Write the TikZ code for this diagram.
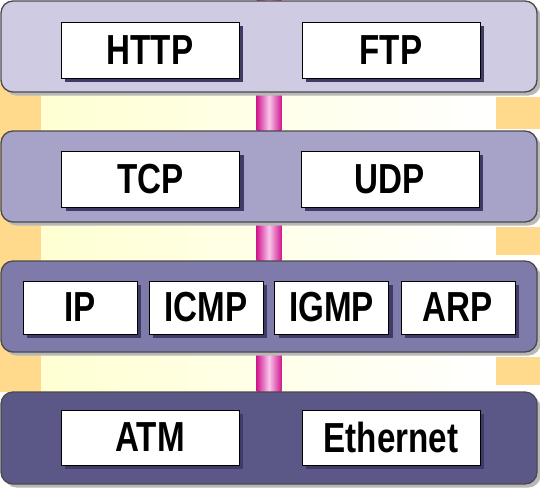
\documentclass[tikz,border=0pt]{standalone}
\usepackage{fontspec}
\newfontfamily\lblfont{Liberation Sans}[FakeStretch=0.79]
\usetikzlibrary{shadows,calc}
\pgfdeclarelayer{bands}
\pgfdeclarelayer{bars}
\pgfsetlayers{bands,bars,main}
\definecolor{layA}{HTML}{CFCBE3}
\definecolor{layB}{HTML}{A7A2C8}
\definecolor{layC}{HTML}{7E7AAA}
\definecolor{layD}{HTML}{5B5887}
\definecolor{laybord}{HTML}{4A4A4A}
\definecolor{layshadow}{HTML}{B8B8B8}
\definecolor{boxshadow}{HTML}{3F3A66}
\definecolor{gold}{HTML}{FFDA8C}
\definecolor{paleyellow}{HTML}{FFFFD2}
\definecolor{pinkdark}{HTML}{D2188E}
\definecolor{pinklight}{HTML}{F9C6EC}
\begin{document}
\begin{tikzpicture}[x=1pt,y=-1pt,
  layerbox/.style={draw=laybord, line width=1.3pt, rounded corners=12pt,
    minimum width=536pt, minimum height=91pt, inner sep=0pt,
    drop shadow={shadow xshift=3.5pt, shadow yshift=-3.5pt, fill=layshadow, opacity=1}},
  proto/.style={draw=black, line width=1pt, fill=white, minimum height=56pt,
    minimum width=178pt, inner sep=0pt,
    font=\lblfont\bfseries\fontsize{42}{42}\selectfont,
    drop shadow={shadow xshift=4pt, shadow yshift=-4pt, fill=boxshadow, opacity=1}},
  smallproto/.style={proto, minimum width=114pt, minimum height=53pt},
  pinkbar/.style={left color=pinkdark, right color=pinkdark, middle color=pinklight},
  goldband/.style={fill=gold},
  midband/.style={left color=paleyellow, right color=white}
]
\useasboundingbox (0,0) rectangle (540,488);

% layers
\node[layerbox, fill=layA] (L1) at (269,46.5) {};
\node[layerbox, fill=layB] (L2) at (269,176.5) {};
\node[layerbox, fill=layC] (L3) at (269,306.5) {};
\node[layerbox, fill=layD, minimum height=92pt] (L4) at (269,438) {};
\coordinate (top) at (269,0);

% protocol boxes
\node[proto] (http) at (150,50) {HTTP};
\node[proto] (ftp) at (391,50) {FTP};
\node[proto] (tcp) at (150.5,179) {TCP};
\node[proto] (udp) at (390,179) {UDP};
\node[smallproto] (ip) at (80,307.5) {IP};
\node[smallproto] (icmp) at (206,307.5) {ICMP};
\node[smallproto] (igmp) at (331.5,307.5) {IGMP};
\node[smallproto] (arp) at (458,307.5) {ARP};
\node[proto, minimum height=55pt] (atm) at (150,437.5) {ATM};
\node[proto, minimum height=55pt] (eth) at (391,437.5) {Ethernet};

% background bands
\begin{pgfonlayer}{bands}
  \fill[white] (0,0) rectangle (540,488);
  \fill[goldband] (0,80) rectangle (41,392);
  \shade[midband] (41,92) rectangle (496,131);
  \shade[midband] (41,222) rectangle (496,261);
  \shade[midband] (41,352) rectangle (496,392);
  \fill[goldband] (496,97) rectangle (540,129);
  \fill[goldband] (496,227) rectangle (540,255);
  \fill[goldband] (496,357) rectangle (540,385);
\end{pgfonlayer}

% connecting bars
\begin{pgfonlayer}{bars}
  \shade[pinkbar] ($(top)+(-12.5,0)$) rectangle ($(L1.north)+(12.5,0)$);
  \shade[pinkbar] ($(L1.south)+(-12.5,0)$) rectangle ($(L2.north)+(12.5,0)$);
  \shade[pinkbar] ($(L2.south)+(-12.5,0)$) rectangle ($(L3.north)+(12.5,0)$);
  \shade[pinkbar] ($(L3.south)+(-12.5,0)$) rectangle ($(L4.north)+(12.5,0)$);
\end{pgfonlayer}
\end{tikzpicture}
\end{document}
